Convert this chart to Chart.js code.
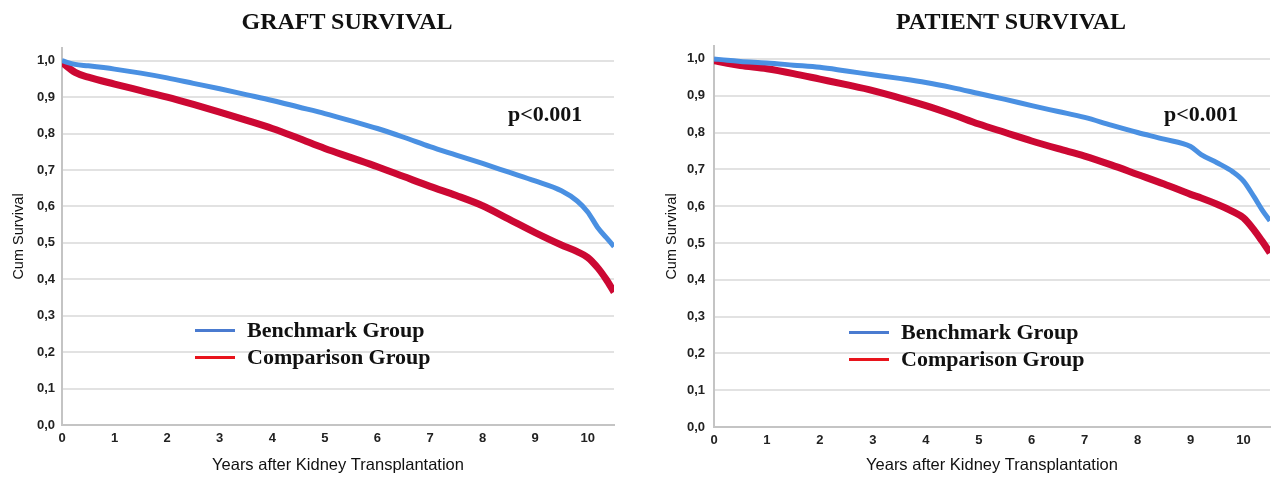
<!DOCTYPE html>
<html lang="en">
  <head>
    <meta charset="UTF-8" />
    <title>Graft and Patient Survival</title>
    <script src="https://cdn.jsdelivr.net/npm/chart.js"></script>
    <style>
      body { margin: 0; background: #fff; }
      #wrap { position: relative; width: 1281px; height: 477px; overflow: hidden; }
      .panel { position: absolute; top: 0; height: 477px; }
      #p1 { left: 0; width: 640px; }
      #p2 { left: 640px; width: 641px; }
      .title {
        position: absolute; top: 8px; white-space: nowrap;
        font: bold 24px "Liberation Serif", "Times New Roman", serif; color: #111;
        transform: translateX(-50%);
      }
      .pval {
        position: absolute; white-space: nowrap;
        font: bold 22px "Liberation Serif", "Times New Roman", serif; color: #111;
      }
      .legend { position: absolute; }
      .legend .row { position: relative; height: 27px; }
      .legend .sw { position: absolute; left: 0; top: 11px; width: 40px; height: 3px; }
      .legend .lbl {
        position: absolute; left: 52px; top: -1px; white-space: nowrap;
        font: bold 22px "Liberation Serif", "Times New Roman", serif; color: #111;
      }
    </style>
  </head>
  <body>
    <div id="wrap">
      <div class="panel" id="p1">
        <canvas id="graft" width="640" height="477"></canvas>
        <div class="title" style="left: 347px">GRAFT SURVIVAL</div>
        <div class="pval" style="left: 508px; top: 101px">p&lt;0.001</div>
        <div class="legend" style="left: 195px; top: 318px">
          <div class="row"><div class="sw" style="background: #4a7bd0"></div><div class="lbl">Benchmark Group</div></div>
          <div class="row"><div class="sw" style="background: #e8141c"></div><div class="lbl">Comparison Group</div></div>
        </div>
      </div>
      <div class="panel" id="p2">
        <canvas id="patient" width="641" height="477"></canvas>
        <div class="title" style="left: 371px">PATIENT SURVIVAL</div>
        <div class="pval" style="left: 524px; top: 101px">p&lt;0.001</div>
        <div class="legend" style="left: 209px; top: 320px">
          <div class="row"><div class="sw" style="background: #4a7bd0"></div><div class="lbl">Benchmark Group</div></div>
          <div class="row"><div class="sw" style="background: #e8141c"></div><div class="lbl">Comparison Group</div></div>
        </div>
      </div>
    </div>

    <script>
      // years after transplantation
      const graftYears = [0, 0.25, 0.5, 1, 1.5, 2, 2.5, 3, 3.5, 4, 4.5, 5, 5.5, 6, 6.5, 7, 7.5, 8, 8.5, 9, 9.5, 9.8, 10, 10.2, 10.35, 10.5];
      const graftBenchmark = [1.0, 0.99, 0.986, 0.977, 0.966, 0.953, 0.938, 0.923, 0.907, 0.891, 0.873, 0.855, 0.835, 0.814, 0.79, 0.764, 0.741, 0.718, 0.694, 0.67, 0.643, 0.615, 0.585, 0.54, 0.515, 0.49];
      const graftComparison = [0.995, 0.968, 0.955, 0.936, 0.918, 0.9, 0.88, 0.859, 0.837, 0.814, 0.787, 0.759, 0.734, 0.709, 0.682, 0.655, 0.63, 0.602, 0.565, 0.528, 0.494, 0.476, 0.46, 0.43, 0.4, 0.365];

      const patientYears = [0, 0.25, 0.5, 1, 1.5, 2, 2.5, 3, 3.5, 4, 4.5, 5, 5.5, 6, 6.5, 7, 7.5, 8, 8.5, 9, 9.2, 9.5, 9.8, 10, 10.2, 10.35, 10.5];
      const patientBenchmark = [1.0, 0.996, 0.993, 0.989, 0.983, 0.977, 0.967, 0.957, 0.947, 0.936, 0.922, 0.906, 0.89, 0.873, 0.857, 0.841, 0.82, 0.8, 0.782, 0.762, 0.74, 0.718, 0.693, 0.668, 0.625, 0.59, 0.56];
      const patientComparison = [0.995, 0.988, 0.982, 0.973, 0.96, 0.945, 0.93, 0.914, 0.894, 0.873, 0.849, 0.823, 0.8, 0.777, 0.756, 0.736, 0.712, 0.686, 0.66, 0.632, 0.622, 0.605, 0.585, 0.568, 0.535, 0.505, 0.473];

      const xTicks = [0, 1, 2, 3, 4, 5, 6, 7, 8, 9, 10];
      const yTicks = [0, 0.1, 0.2, 0.3, 0.4, 0.5, 0.6, 0.7, 0.8, 0.9, 1.0];

      const tickFont = { family: "'Liberation Sans', Arial, sans-serif", size: 13, weight: "bold" };
      const axisFont = { family: "'Liberation Sans', Arial, sans-serif", size: 14.5 };

      function pairs(xs, ys) {
        return xs.map((x, i) => ({ x: x, y: ys[i] }));
      }

      function makeChart(id, years, bench, comp, lay) {
        new Chart(document.getElementById(id), {
          type: "line",
          data: {
            datasets: [
              {
                label: "Benchmark Group",
                data: pairs(years, bench),
                borderColor: "#4a90e2",
                borderWidth: 5,
                pointRadius: 0,
                tension: 0.3,
                cubicInterpolationMode: "monotone",
              },
              {
                label: "Comparison Group",
                data: pairs(years, comp),
                borderColor: "#cc0833",
                borderWidth: 7,
                pointRadius: 0,
                tension: 0.3,
                cubicInterpolationMode: "monotone",
              },
            ],
          },
          options: {
            responsive: false,
            animation: false,
            layout: { padding: { top: lay.top, right: lay.right, left: 0, bottom: 0 } },
            plugins: { legend: { display: false }, tooltip: { enabled: false }, title: { display: false } },
            scales: {
              x: {
                type: "linear",
                min: 0,
                max: 10.5,
                afterBuildTicks: (s) => { s.ticks = xTicks.map((v) => ({ value: v })); },
                afterFit: (s) => { s.height = lay.xh; },
                grid: { display: false, drawTicks: false },
                border: { display: true, color: "#c4c4c4", width: 2 },
                ticks: { color: "#222", font: tickFont, padding: 6, maxRotation: 0, callback: (v) => v },
                title: { display: true, text: "Years after Kidney Transplantation", color: "#111", font: { family: axisFont.family, size: 16.5 }, padding: { top: 0, bottom: lay.xtp } },
              },
              y: {
                min: 0,
                max: 1.035,
                afterBuildTicks: (s) => { s.ticks = yTicks.map((v) => ({ value: v })); },
                afterFit: (s) => { s.width = lay.yw; },
                grid: { color: "#e2e2e2", lineWidth: 2, drawTicks: false },
                border: { display: true, color: "#c4c4c4", width: 2 },
                ticks: { color: "#222", font: tickFont, padding: lay.tp, callback: (v) => v.toFixed(1).replace(".", ",") },
                title: { display: true, text: "Cum Survival", color: "#111", font: axisFont, padding: { top: lay.ytp, bottom: 0 } },
              },
            },
          },
        });
      }

      document.addEventListener("DOMContentLoaded", () => {
        makeChart("graft", graftYears, graftBenchmark, graftComparison, { top: 48, right: 26, xh: 52, yw: 62, tp: 7, ytp: 10, xtp: 2 });
        makeChart("patient", patientYears, patientBenchmark, patientComparison, { top: 46, right: 11, xh: 50, yw: 74, tp: 9, ytp: 23, xtp: 2 });
      });
    </script>
  </body>
</html>
